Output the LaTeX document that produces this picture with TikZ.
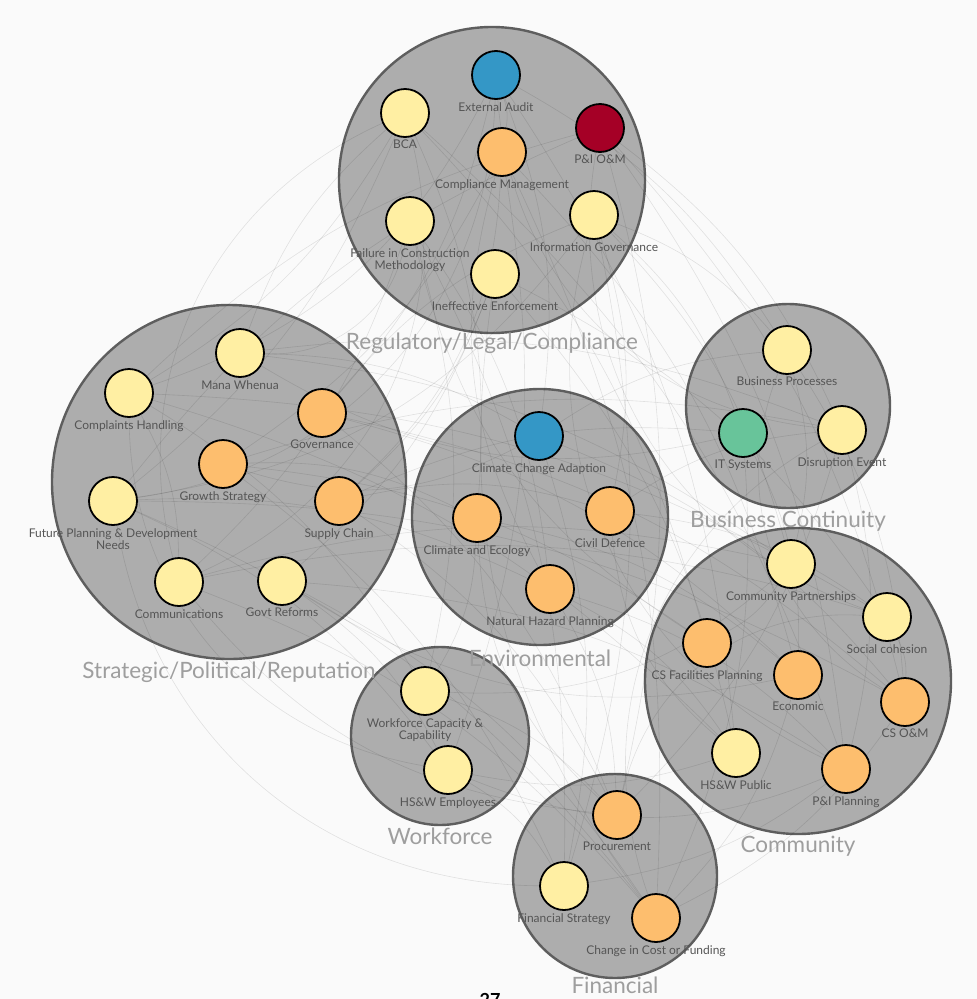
\documentclass[tikz,border=0pt]{standalone}
\usepackage{fontspec}
\setmainfont{Lato}
\definecolor{yel}{HTML}{FFEFA3}
\definecolor{org}{HTML}{FDBE6E}
\definecolor{blu}{HTML}{3497C6}
\definecolor{dred}{HTML}{A50026}
\definecolor{grn}{HTML}{68C49A}
\definecolor{grpfill}{HTML}{ADADAD}
\definecolor{grpline}{HTML}{5E5E5E}
\definecolor{labtxt}{HTML}{555555}
\definecolor{grptxt}{HTML}{9E9E9E}
\definecolor{bgc}{HTML}{FAFAFA}
\pgfdeclarelayer{bg}
\pgfdeclarelayer{edges}
\pgfsetlayers{bg,edges,main}
\tikzset{
  grp/.style={circle, fill=grpfill, draw=grpline, line width=2.4pt, inner sep=0pt},
  grplab/.style={text=grptxt, font=\fontsize{22.5}{24}\selectfont, inner sep=0pt},
  rnode/.style={circle, draw=black, line width=1.8pt, minimum size=48pt, inner sep=0pt},
  rlab/.style={text=labtxt, font=\fontsize{12}{12}\selectfont, align=center, anchor=north, inner sep=0pt},
  edge/.style={draw=black, draw opacity=0.1, line width=0.6pt},
}
\begin{document}
\begin{tikzpicture}[x=1pt,y=-1pt]
\useasboundingbox (0,0) rectangle (977,999);
\clip (0,0) rectangle (977,999);
\begin{pgfonlayer}{bg}
\fill[bgc] (0,0) rectangle (977,999);
\node[grp, minimum size=306pt] (greg) at (492,180) {};
\node[grp, minimum size=354pt] (gstr) at (229,482) {};
\node[grp, minimum size=256pt] (genv) at (540,517) {};
\node[grp, minimum size=204pt] (gbc) at (788,406) {};
\node[grp, minimum size=306pt] (gcom) at (798,681) {};
\node[grp, minimum size=178pt] (gwf) at (440,736) {};
\node[grp, minimum size=204pt] (gfin) at (615,876) {};
\end{pgfonlayer}
\foreach \n/\x/\y/\c/\t in {
  ea/496/75/blu/{External Audit},
  bca/405/113/yel/{BCA},
  pio/600/128/dred/{P\&I O\&M},
  cm/502/152/org/{Compliance Management},
  ficm/410/221/yel/{Failure in Construction\\Methodology},
  ig/594/215/yel/{Information Governance},
  ie/495/274/yel/{Ineffective Enforcement},
  mw/240/353/yel/{Mana Whenua},
  ch/129/393/yel/{Complaints Handling},
  gov/322/413/org/{Governance},
  gs/223/464/org/{Growth Strategy},
  fpd/113/501/yel/{Future Planning \& Development\\Needs},
  sc/339/501/org/{Supply Chain},
  com/179/582/yel/{Communications},
  gr/282/581/yel/{Govt Reforms},
  cca/539/436/blu/{Climate Change Adaption},
  ce/477/518/org/{Climate and Ecology},
  cd/610/511/org/{Civil Defence},
  nhp/550/589/org/{Natural Hazard Planning},
  bp/787/350/yel/{Business Processes},
  its/743/433/grn/{IT Systems},
  de/842/430/yel/{Disruption Event},
  cp/791/564/yel/{Community Partnerships},
  soc/887/617/yel/{Social cohesion},
  csf/707/643/org/{CS Facilities Planning},
  eco/798/675/org/{Economic},
  csom/905/702/org/{CS O\&M},
  hsp/736/753/yel/{HS\&W Public},
  pip/846/769/org/{P\&I Planning},
  wcc/425/691/yel/{Workforce Capacity \&\\Capability},
  hse/448/770/yel/{HS\&W Employees},
  pro/617/815/org/{Procurement},
  fs/564/886/yel/{Financial Strategy},
  ccf/656/918/org/{Change in Cost or Funding}}{
  \node[rnode, fill=\c] (\n) at (\x,\y) {};
  \node[rlab] (\n-l) at (\x,\y+27) {\t};
}
\node[grplab] (lreg) at (492,343) {Regulatory/Legal/Compliance};
\node[grplab] (lstr) at (229,672) {Strategic/Political/Reputation};
\node[grplab] (lenv) at (540,658) {Environmental};
\node[grplab] (lbc) at (788,521) {Business Continuity};
\node[grplab] (lcom) at (798,846) {Community};
\node[grplab] (lwf) at (440,836) {Workforce};
\node[grplab] (lfin) at (615,985) {Financial};
\node[font=\fontsize{18}{20}\selectfont\bfseries, anchor=north, inner sep=0pt] (pg) at (490,993) {27};
\begin{pgfonlayer}{edges}
\foreach \a/\b in {ea/cm, ea/bp, ea/gov, ea/cca, bca/ch, bca/fpd, bca/csf, bca/ce, pio/de, pio/csom, pio/pip, pio/pro,
  cm/gs, cm/eco, cm/hse, cm/ccf, ficm/com, ficm/nhp, ficm/wcc, ficm/fs, ig/its, ig/bp, ig/cp, ig/cd, ie/gr, ie/sc, ie/soc, ie/hsp,
  mw/cp, mw/cca, mw/bca, ch/com, ch/hsp, ch/wcc, gov/ig, gov/eco, gov/pro, gs/ce, gs/csf, gs/fs, gs/de, fpd/nhp, fpd/hse, fpd/ccf,
  sc/pro, sc/cd, sc/its, com/soc, com/cp, gr/ccf, gr/hse, gr/pip, cca/bp, cca/csom, cca/fs, ce/wcc, ce/eco, cd/de, cd/soc,
  nhp/pro, nhp/hsp, nhp/pip, bp/csom, bp/cp, its/eco, its/ccf, de/pip, de/pro, cp/csf, soc/csom, eco/ccf, csom/ccf, hsp/hse,
  pip/fs, wcc/pro, hse/fs, ch/pio, fpd/pio, mw/de, com/ccf, ch/soc, fpd/csom, bca/pip, ea/hsp, gov/csom, ig/fs}{
  \draw[edge] (\a) to[bend left=14] (\b);
}
\foreach \a/\b in {ch/ea, fpd/ig, com/pro, gr/eco, mw/its, wcc/cp, hse/pip, ficm/csf, ie/ccf, cm/nhp, ce/pro, cd/hsp, gs/cca, sc/cm}{
  \draw[edge] (\a) to[bend right=22] (\b);
}
\foreach \a/\b in {fpd/ea, com/bca, ch/hse, fpd/fs, de/ccf, soc/pro, bp/csom, pio/soc, ig/pip, ea/de, bca/com, mw/ficm}{
  \draw[edge] (\a) to[bend right=40] (\b);
}
\end{pgfonlayer}
\end{tikzpicture}
\end{document}
